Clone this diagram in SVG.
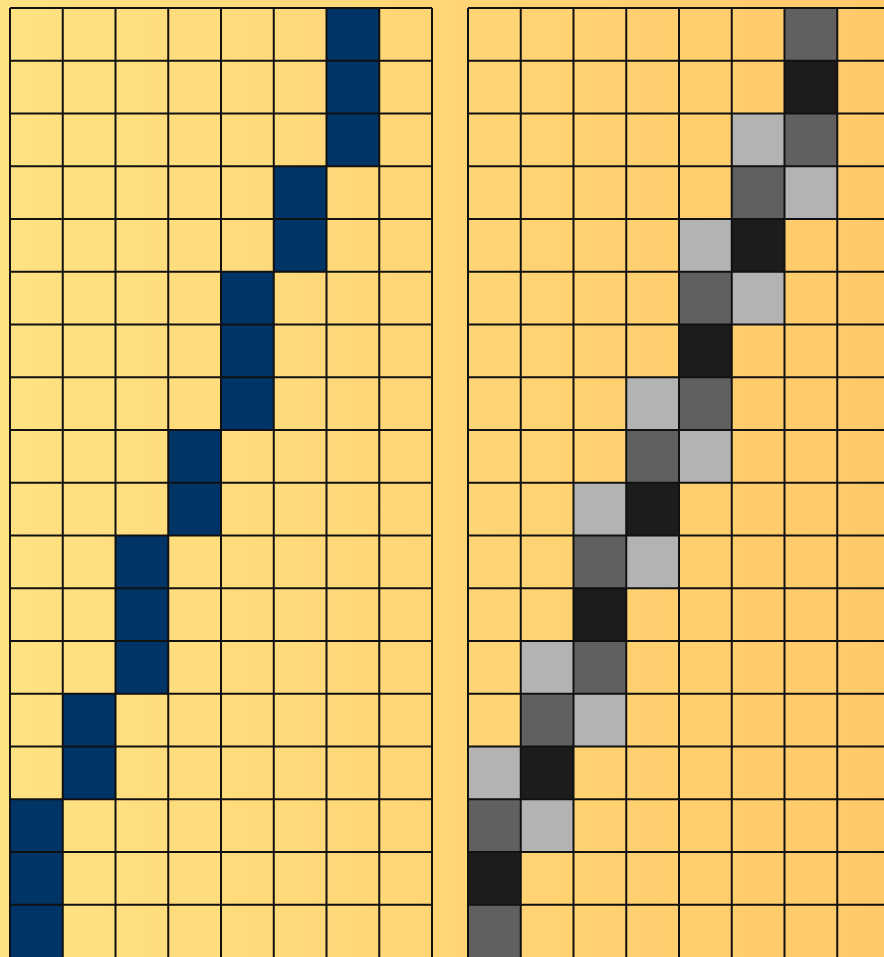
<svg xmlns="http://www.w3.org/2000/svg" width="884" height="957" viewBox="0 0 884 957">
<style>
.g{fill:none;stroke:#111;stroke-width:2}
.b{fill:#003366}
.d{fill:#606060}
.k{fill:#1c1c1c}
.l{fill:#b3b3b3}
</style>
<defs>
<linearGradient id="bg" gradientUnits="userSpaceOnUse" x1="0" y1="0" x2="884" y2="0">
<stop offset="0" stop-color="#FFE283"/>
<stop offset="1" stop-color="#FFC968"/>
</linearGradient>
<symbol id="c" overflow="visible"><rect width="52.75" height="52.75"/></symbol>
</defs>
<rect width="884" height="957" fill="url(#bg)"/>
<g id="left-grid">
<g class="b">
<rect x="326.5" y="8" width="52.75" height="52.75"/>
<rect x="326.5" y="60.75" width="52.75" height="52.75"/>
<rect x="326.5" y="113.5" width="52.75" height="52.75"/>
<rect x="273.75" y="166.25" width="52.75" height="52.75"/>
<rect x="273.75" y="219" width="52.75" height="52.75"/>
<rect x="221" y="271.75" width="52.75" height="52.75"/>
<rect x="221" y="324.5" width="52.75" height="52.75"/>
<rect x="221" y="377.25" width="52.75" height="52.75"/>
<rect x="168.25" y="430" width="52.75" height="52.75"/>
<rect x="168.25" y="482.75" width="52.75" height="52.75"/>
<rect x="115.5" y="535.5" width="52.75" height="52.75"/>
<rect x="115.5" y="588.25" width="52.75" height="52.75"/>
<rect x="115.5" y="641" width="52.75" height="52.75"/>
<rect x="62.75" y="693.75" width="52.75" height="52.75"/>
<rect x="62.75" y="746.5" width="52.75" height="52.75"/>
<rect x="10" y="799.25" width="52.75" height="52.75"/>
<rect x="10" y="852" width="52.75" height="52.75"/>
<rect x="10" y="904.75" width="52.75" height="52.75"/>
</g>
<path class="g" d="M10 8V958M62.75 8V958M115.5 8V958M168.25 8V958M221 8V958M273.75 8V958M326.5 8V958M379.25 8V958M432 8V958
M10 8H432M10 60.75H432M10 113.5H432M10 166.25H432M10 219H432M10 271.75H432M10 324.5H432M10 377.25H432M10 430H432M10 482.75H432M10 535.5H432M10 588.25H432M10 641H432M10 693.75H432M10 746.5H432M10 799.25H432M10 852H432M10 904.75H432"/>
</g>
<g id="right-grid">
<rect class="d" x="784.5" y="8" width="52.75" height="52.75"/>
<rect class="k" x="784.5" y="60.75" width="52.75" height="52.75"/>
<rect class="l" x="731.75" y="113.5" width="52.75" height="52.75"/>
<rect class="d" x="784.5" y="113.5" width="52.75" height="52.75"/>
<rect class="d" x="731.75" y="166.25" width="52.75" height="52.75"/>
<rect class="l" x="784.5" y="166.25" width="52.75" height="52.75"/>
<rect class="l" x="679" y="219" width="52.75" height="52.75"/>
<rect class="k" x="731.75" y="219" width="52.75" height="52.75"/>
<rect class="d" x="679" y="271.75" width="52.75" height="52.75"/>
<rect class="l" x="731.75" y="271.75" width="52.75" height="52.75"/>
<rect class="k" x="679" y="324.5" width="52.75" height="52.75"/>
<rect class="l" x="626.25" y="377.25" width="52.75" height="52.75"/>
<rect class="d" x="679" y="377.25" width="52.75" height="52.75"/>
<rect class="d" x="626.25" y="430" width="52.75" height="52.75"/>
<rect class="l" x="679" y="430" width="52.75" height="52.75"/>
<rect class="l" x="573.5" y="482.75" width="52.75" height="52.75"/>
<rect class="k" x="626.25" y="482.75" width="52.75" height="52.75"/>
<rect class="d" x="573.5" y="535.5" width="52.75" height="52.75"/>
<rect class="l" x="626.25" y="535.5" width="52.75" height="52.75"/>
<rect class="k" x="573.5" y="588.25" width="52.75" height="52.75"/>
<rect class="l" x="520.75" y="641" width="52.75" height="52.75"/>
<rect class="d" x="573.5" y="641" width="52.75" height="52.75"/>
<rect class="d" x="520.75" y="693.75" width="52.75" height="52.75"/>
<rect class="l" x="573.5" y="693.75" width="52.75" height="52.75"/>
<rect class="l" x="468" y="746.5" width="52.75" height="52.75"/>
<rect class="k" x="520.75" y="746.5" width="52.75" height="52.75"/>
<rect class="d" x="468" y="799.25" width="52.75" height="52.75"/>
<rect class="l" x="520.75" y="799.25" width="52.75" height="52.75"/>
<rect class="k" x="468" y="852" width="52.75" height="52.75"/>
<rect class="d" x="468" y="904.75" width="52.75" height="52.75"/>
<path class="g" d="M468 8V958M520.75 8V958M573.5 8V958M626.25 8V958M679 8V958M731.75 8V958M784.5 8V958M837.25 8V958
M468 8H890M468 60.75H890M468 113.5H890M468 166.25H890M468 219H890M468 271.75H890M468 324.5H890M468 377.25H890M468 430H890M468 482.75H890M468 535.5H890M468 588.25H890M468 641H890M468 693.75H890M468 746.5H890M468 799.25H890M468 852H890M468 904.75H890"/>
</g>
</svg>
